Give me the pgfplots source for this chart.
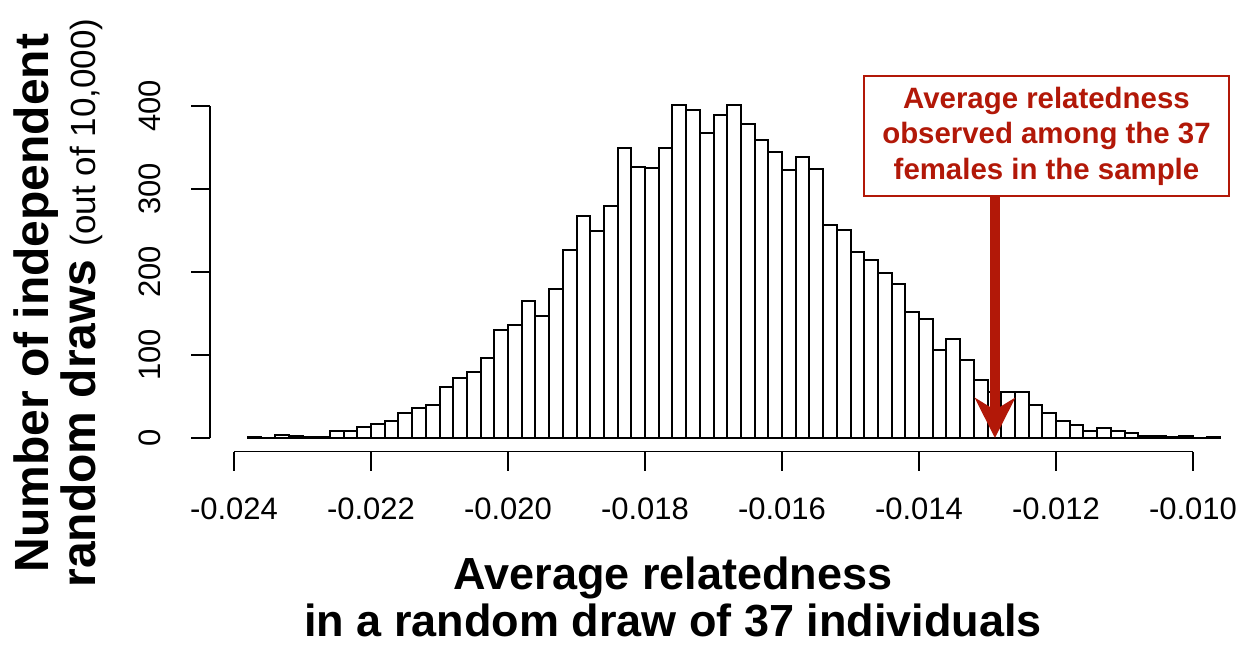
\documentclass[border=0pt]{standalone}
\usepackage{fontspec}
\setmainfont{Liberation Sans}
\usepackage{pgfplots}
\pgfplotsset{compat=1.18}
\usetikzlibrary{arrows.meta}
\definecolor{annred}{RGB}{178,24,8}
\pgfplotstableread{
x y
-0.0238 1
-0.0236 0
-0.0234 4
-0.0232 2
-0.0230 1
-0.0228 1
-0.0226 8
-0.0224 8
-0.0222 13
-0.0220 17
-0.0218 20
-0.0216 30
-0.0214 36
-0.0212 40
-0.0210 61
-0.0208 72
-0.0206 80
-0.0204 96
-0.0202 130
-0.0200 136
-0.0198 165
-0.0196 147
-0.0194 180
-0.0192 226
-0.0190 268
-0.0188 249
-0.0186 280
-0.0184 350
-0.0182 326
-0.0180 325
-0.0178 350
-0.0176 401
-0.0174 395
-0.0172 368
-0.0170 389
-0.0168 401
-0.0166 378
-0.0164 359
-0.0162 345
-0.0160 323
-0.0158 338
-0.0156 324
-0.0154 257
-0.0152 251
-0.0150 224
-0.0148 214
-0.0146 199
-0.0144 186
-0.0142 152
-0.0140 143
-0.0138 106
-0.0136 119
-0.0134 94
-0.0132 70
-0.0130 55
-0.0128 56
-0.0126 55
-0.0124 40
-0.0122 30
-0.0120 20
-0.0118 16
-0.0116 8
-0.0114 12
-0.0112 8
-0.0110 6
-0.0108 3
-0.0106 2
-0.0104 1
-0.0102 2
-0.0100 0
-0.0098 1
-0.0096 0
}\histdata
\begin{document}
\begin{tikzpicture}
\begin{axis}[
  scale only axis,
  width=512.04bp, height=177bp,
  xmin=-0.02435, xmax=-0.0094,
  ymin=-16.5, ymax=410,
  axis x line*=bottom, axis y line*=left,
  axis line style={draw=none},
  tick align=outside,
  major tick length=9.5bp,
  tick style={line width=0.75bp, black},
  scaled x ticks=false,
  xtick={-0.024,-0.022,-0.020,-0.018,-0.016,-0.014,-0.012,-0.010},
  xticklabels={-0.024,-0.022,-0.020,-0.018,-0.016,-0.014,-0.012,-0.010},
  ytick={0,100,200,300,400},
  yticklabels={0,100,200,300,400},
  ticklabel style={font=\fontsize{15.5bp}{18bp}\selectfont},
  xticklabel style={yshift=-10bp},
  yticklabel style={xshift=-11.5bp, rotate=90, anchor=south},
  xlabel={Average relatedness\\in a random draw of 37 individuals},
  xlabel style={at={(axis description cs:0.4521,-0.4105)}, anchor=center, align=center, inner sep=0pt,
    font=\bfseries\fontsize{22.5bp}{23.5bp}\selectfont},
  ylabel={Number of independent\\random draws {\mdseries\fontsize{17.5bp}{23.5bp}\selectfont (out of 10,000)}},
  ylabel style={at={(axis description cs:-0.1484,0.4200)}, anchor=center, align=center, inner sep=0pt,
    font=\bfseries\fontsize{24bp}{23.5bp}\selectfont},
  clip=false,
]
\addplot[ybar interval, draw=black, fill=white, line width=1bp] table[x=x,y=y] {\histdata};
\draw[line width=0.75bp] (axis cs:-0.024,-16.5) -- (axis cs:-0.010,-16.5);
\draw[line width=0.75bp] (axis cs:-0.02435,0) -- (axis cs:-0.02435,400);
\node[draw=annred, line width=1bp, fill=white, text=annred, align=center,
  minimum width=182.5bp, minimum height=60bp, inner sep=0pt,
  font=\bfseries\fontsize{14.7bp}{17.75bp}\selectfont]
  at (axis cs:-0.012139,363.9) {Average relatedness\\observed among the 37\\females in the sample};
\draw[annred, line width=5bp, -{Stealth[length=20bp,width=20bp,inset=6bp]}]
  (axis cs:-0.012891,291.6) -- (axis cs:-0.012891,0);
\coordinate (BBll) at (axis cs:-0.0274161,-250.6);
\coordinate (BBur) at (axis cs:-0.0091971,527.71);
\end{axis}
\pgfresetboundingbox
\useasboundingbox (BBll) rectangle (BBur);
\end{tikzpicture}
\end{document}
